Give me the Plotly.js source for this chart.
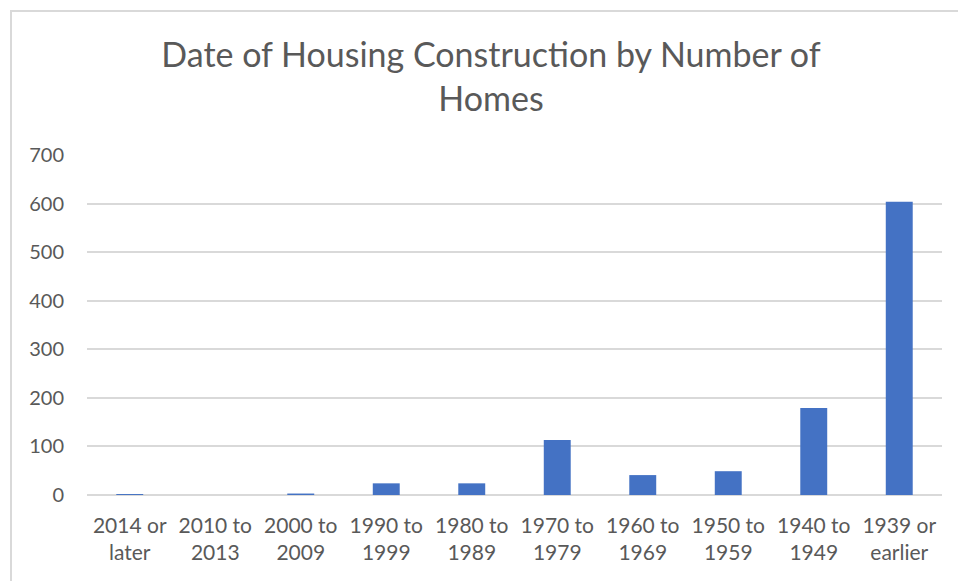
<!DOCTYPE html>
<html>
<head>
<meta charset="utf-8">
<script src="https://cdn.plot.ly/plotly-3.0.1.min.js"></script>
<style>
html,body{margin:0;padding:0;background:#fff;overflow:hidden;}
#chart{width:958px;height:581px;position:absolute;left:0;top:0;}
#frame{position:absolute;left:10px;top:10px;width:1000px;height:700px;border-left:2px solid #d9d9d9;border-top:2px solid #d9d9d9;pointer-events:none;}
</style>
</head>
<body>
<div id="chart"></div>
<div id="frame"></div>
<script>
const categories = ["2014 or later","2010 to 2013","2000 to 2009","1990 to 1999","1980 to 1989","1970 to 1979","1960 to 1969","1950 to 1959","1940 to 1949","1939 or earlier"];
const tickLabels = ["2014 or<br>later","2010 to<br>2013","2000 to<br>2009","1990 to<br>1999","1980 to<br>1989","1970 to<br>1979","1960 to<br>1969","1950 to<br>1959","1940 to<br>1949","1939 or<br>earlier"];
const homes = [2, 0, 3, 24, 24, 113, 41, 49, 179, 604];
const yTicks = [0, 100, 200, 300, 400, 500, 600, 700];

const font = "Lato, 'Open Sans', sans-serif";
const trace = {
  type: 'bar',
  x: categories,
  y: homes,
  marker: {color: '#4472C4', line: {width: 0}},
  hoverinfo: 'x+y'
};
const layout = {
  width: 958, height: 581,
  margin: {l: 87, r: 16, t: 155, b: 86},
  paper_bgcolor: '#ffffff',
  plot_bgcolor: '#ffffff',
  bargap: 0.685,
  showlegend: false,
  title: {
    text: 'Date of Housing Construction by Number of<br>Homes',
    font: {family: font, size: 34, color: '#595959'},
    x: 491/958, xanchor: 'center', xref: 'container',
    y: 1 - 67/581, yanchor: 'middle', yref: 'container'
  },
  xaxis: {
    type: 'category',
    tickmode: 'array',
    tickvals: categories,
    ticktext: tickLabels,
    tickfont: {family: font, size: 21, color: '#595959'},
    showgrid: false,
    zeroline: false,
    showline: false,
    ticks: '',
    ticklabelstandoff: 16
  },
  yaxis: {
    range: [0, 700],
    tickmode: 'array',
    tickvals: yTicks,
    tickfont: {family: font, size: 20, color: '#595959'},
    showgrid: true,
    gridcolor: '#d9d9d9',
    gridwidth: 2,
    zeroline: true,
    zerolinecolor: '#d9d9d9',
    zerolinewidth: 2,
    showline: false,
    ticks: '',
    ticklabelstandoff: 22
  }
};
Plotly.newPlot('chart', [trace], layout, {displayModeBar: false, staticPlot: true});
</script>
</body>
</html>
